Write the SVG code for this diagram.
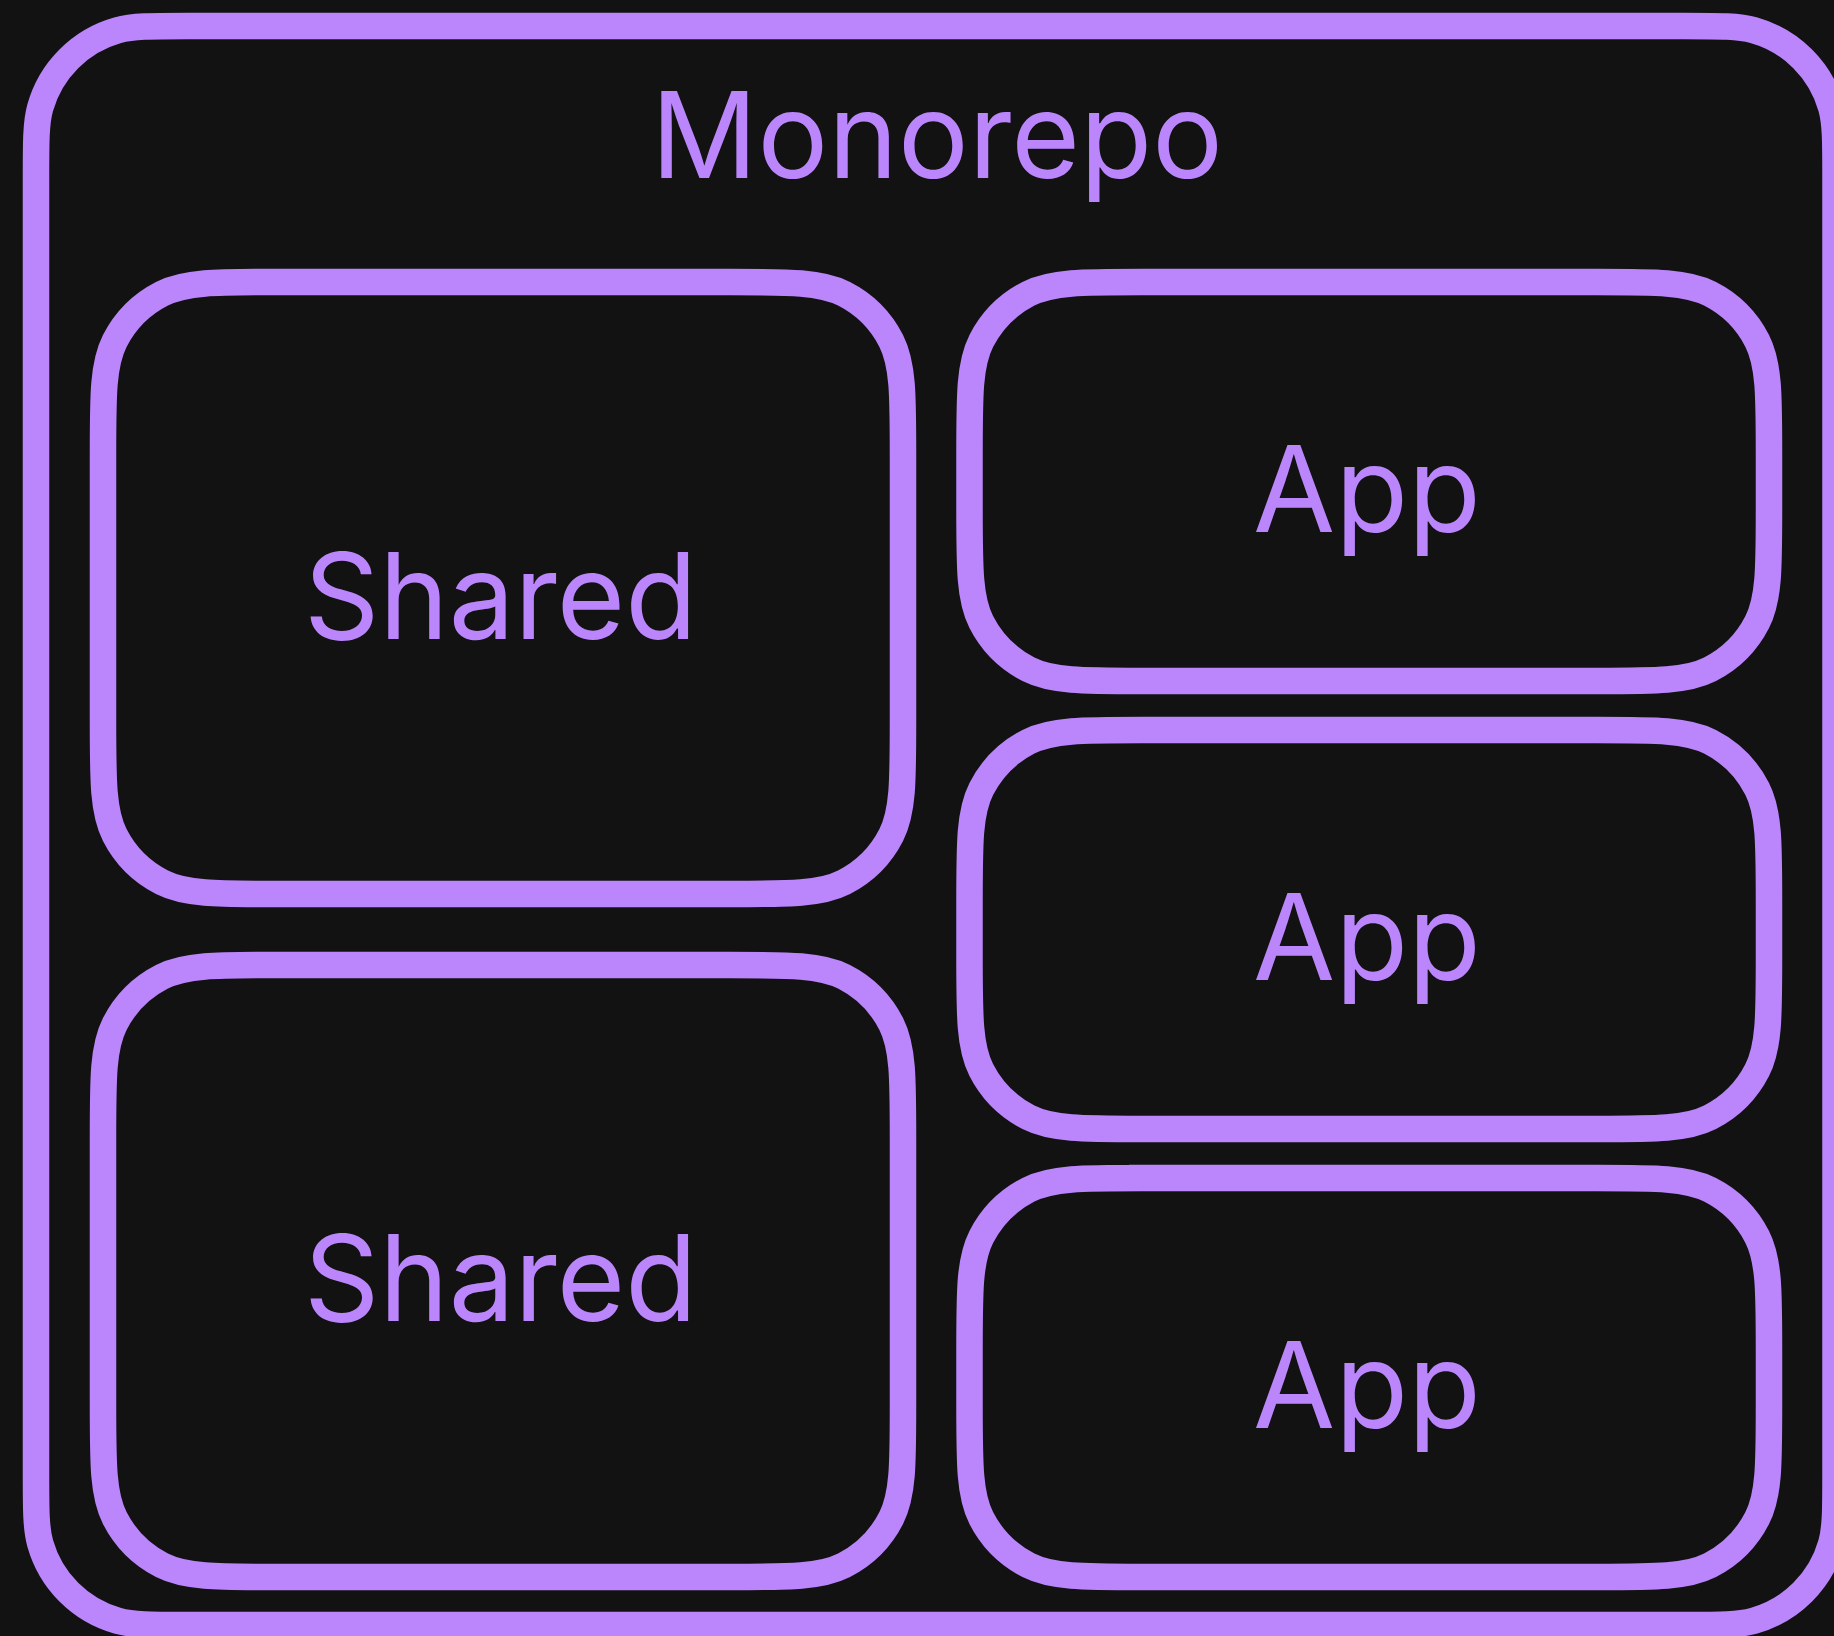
<svg xmlns="http://www.w3.org/2000/svg" width="1834" height="1636" viewBox="0 0 1834 1636">
  <style>
    .box { fill: none; stroke: #bb86fc; stroke-width: 26.5; }
    .label { fill: #bb86fc; font-family: Inter, "Liberation Sans", sans-serif; font-size: 119px; text-anchor: middle; }
  </style>
  <rect width="1834" height="1636" fill="#121212"/>

  <!-- Container: smoothed corners, radius 112, smoothing 0.35 -->
  <g id="monorepo">
    <path class="box" d="M187.2,26 H1684.3
      c36.46,0 54.69,0 69.6,4.21 a112,112 0 0 1 77.39,77.39 c4.21,14.91 4.21,33.14 4.21,69.6
      V1473.8
      c0,36.46 0,54.69 -4.21,69.6 a112,112 0 0 1 -77.39,77.39 c-14.91,4.21 -33.14,4.21 -69.6,4.21
      H187.2
      c-36.46,0 -54.69,0 -69.6,-4.21 a112,112 0 0 1 -77.39,-77.39 c-4.21,-14.91 -4.21,-33.14 -4.21,-69.6
      V177.2
      c0,-36.46 0,-54.69 4.21,-69.6 a112,112 0 0 1 77.39,-77.39 c14.91,-4.21 33.14,-4.21 69.6,-4.21 Z"/>
    <text class="label" x="937" y="178" textLength="572" lengthAdjust="spacingAndGlyphs">Monorepo</text>
  </g>

  <!-- Shared packages: smoothed corners, radius 108, smoothing 0.6 -->
  <g id="shared-1">
    <path class="box" d="M275.8,282 H730.2
      c60.49,0 90.73,0 113.83,11.77 a108,108 0 0 1 47.2,47.2 c11.77,23.1 11.77,53.35 11.77,113.83
      V721.2
      c0,60.49 0,90.73 -11.77,113.83 a108,108 0 0 1 -47.2,47.2 c-23.1,11.77 -53.35,11.77 -113.83,11.77
      H275.8
      c-60.49,0 -90.73,0 -113.83,-11.77 a108,108 0 0 1 -47.2,-47.2 c-11.77,-23.1 -11.77,-53.35 -11.77,-113.83
      V454.8
      c0,-60.49 0,-90.73 11.77,-113.83 a108,108 0 0 1 47.2,-47.2 c23.1,-11.77 53.35,-11.77 113.83,-11.77 Z"/>
    <text class="label" x="500.5" y="638.5" textLength="393" lengthAdjust="spacingAndGlyphs">Shared</text>
  </g>
  <g id="shared-2">
    <path class="box" d="M275.8,965 H730.2
      c60.49,0 90.73,0 113.83,11.77 a108,108 0 0 1 47.2,47.2 c11.77,23.1 11.77,53.35 11.77,113.83
      V1404.2
      c0,60.49 0,90.73 -11.77,113.83 a108,108 0 0 1 -47.2,47.2 c-23.1,11.77 -53.35,11.77 -113.83,11.77
      H275.8
      c-60.49,0 -90.73,0 -113.83,-11.77 a108,108 0 0 1 -47.2,-47.2 c-11.77,-23.1 -11.77,-53.35 -11.77,-113.83
      V1137.8
      c0,-60.49 0,-90.73 11.77,-113.83 a108,108 0 0 1 47.2,-47.2 c23.1,-11.77 53.35,-11.77 113.83,-11.77 Z"/>
    <text class="label" x="500.5" y="1320.5" textLength="393" lengthAdjust="spacingAndGlyphs">Shared</text>
  </g>

  <!-- Applications: same corner shape -->
  <g id="app-1">
    <path class="box" d="M1142.3,282 H1596.2
      c60.49,0 90.73,0 113.83,11.77 a108,108 0 0 1 47.2,47.2 c11.77,23.1 11.77,53.35 11.77,113.83
      V508.2
      c0,60.49 0,90.73 -11.77,113.83 a108,108 0 0 1 -47.2,47.2 c-23.1,11.77 -53.35,11.77 -113.83,11.77
      H1142.3
      c-60.49,0 -90.73,0 -113.83,-11.77 a108,108 0 0 1 -47.2,-47.2 c-11.77,-23.1 -11.77,-53.35 -11.77,-113.83
      V454.8
      c0,-60.49 0,-90.73 11.77,-113.83 a108,108 0 0 1 47.2,-47.2 c23.1,-11.77 53.35,-11.77 113.83,-11.77 Z"/>
    <text class="label" x="1367" y="532" textLength="228" lengthAdjust="spacingAndGlyphs">App</text>
  </g>
  <g id="app-2">
    <path class="box" d="M1142.3,730 H1596.2
      c60.49,0 90.73,0 113.83,11.77 a108,108 0 0 1 47.2,47.2 c11.77,23.1 11.77,53.35 11.77,113.83
      V956.2
      c0,60.49 0,90.73 -11.77,113.83 a108,108 0 0 1 -47.2,47.2 c-23.1,11.77 -53.35,11.77 -113.83,11.77
      H1142.3
      c-60.49,0 -90.73,0 -113.83,-11.77 a108,108 0 0 1 -47.2,-47.2 c-11.77,-23.1 -11.77,-53.35 -11.77,-113.83
      V902.8
      c0,-60.49 0,-90.73 11.77,-113.83 a108,108 0 0 1 47.2,-47.2 c23.1,-11.77 53.35,-11.77 113.83,-11.77 Z"/>
    <text class="label" x="1367" y="980" textLength="228" lengthAdjust="spacingAndGlyphs">App</text>
  </g>
  <g id="app-3">
    <path class="box" d="M1142.3,1178 H1596.2
      c60.49,0 90.73,0 113.83,11.77 a108,108 0 0 1 47.2,47.2 c11.77,23.1 11.77,53.35 11.77,113.83
      V1404.2
      c0,60.49 0,90.73 -11.77,113.83 a108,108 0 0 1 -47.2,47.2 c-23.1,11.77 -53.35,11.77 -113.83,11.77
      H1142.3
      c-60.49,0 -90.73,0 -113.83,-11.77 a108,108 0 0 1 -47.2,-47.2 c-11.77,-23.1 -11.77,-53.35 -11.77,-113.83
      V1350.8
      c0,-60.49 0,-90.73 11.77,-113.83 a108,108 0 0 1 47.2,-47.2 c23.1,-11.77 53.35,-11.77 113.83,-11.77 Z"/>
    <text class="label" x="1367" y="1428" textLength="228" lengthAdjust="spacingAndGlyphs">App</text>
  </g>

  <!-- No connectors in this diagram -->
  <g id="connectors"/>
</svg>
